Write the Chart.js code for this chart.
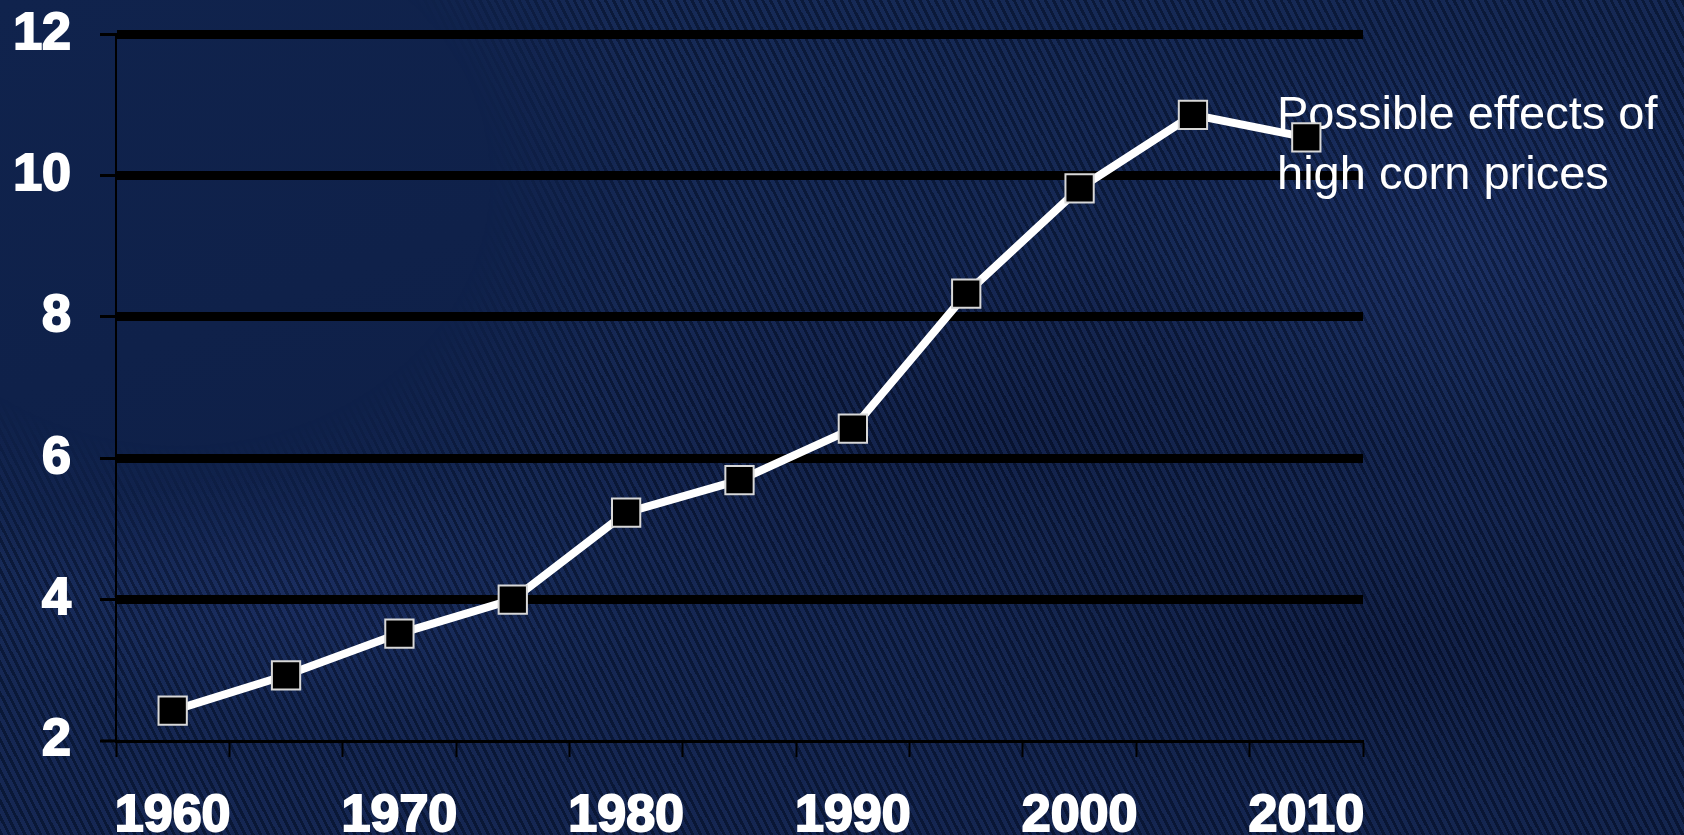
<!DOCTYPE html>
<html>
<head>
<meta charset="utf-8">
<title>Yield trend</title>
<script src="https://cdn.jsdelivr.net/npm/chart.js@4.4.1/dist/chart.umd.min.js"></script>
<style>
  html, body { margin: 0; padding: 0; }
  body {
    width: 1684px;
    height: 835px;
    overflow: hidden;
    position: relative;
    background: #0f2149;
  }
  /* dark navy backdrop with soft sweeping shapes */
  #backdrop {
    position: absolute;
    inset: 0;
    background:
      radial-gradient(ellipse 520px 180px at 300px 600px, rgba(30, 50, 110, 0.35), transparent 70%),
      radial-gradient(ellipse 700px 260px at 1000px 430px, rgba(5, 12, 40, 0.35), transparent 70%),
      radial-gradient(ellipse 500px 300px at 1450px 250px, rgba(35, 60, 125, 0.30), transparent 70%),
      radial-gradient(ellipse 600px 220px at 1350px 650px, rgba(5, 10, 35, 0.35), transparent 70%),
      linear-gradient(160deg, #10234d 0%, #0e1f47 55%, #0c1c42 100%);
  }
  /* fine diagonal weave, fading out toward the upper left */
  #backdrop::after {
    content: "";
    position: absolute;
    inset: 0;
    background: repeating-linear-gradient(63deg,
      rgba(0, 0, 0, 0.22) 0px, rgba(0, 0, 0, 0.22) 3px,
      rgba(70, 95, 160, 0.14) 3px, rgba(70, 95, 160, 0.14) 7px);
    -webkit-mask-image: radial-gradient(ellipse 560px 480px at 180px 180px, transparent 55%, #000 85%);
    mask-image: radial-gradient(ellipse 560px 480px at 180px 180px, transparent 55%, #000 85%);
  }
  #chart { position: absolute; left: 0; top: 0; }
</style>
</head>
<body>
<div id="backdrop"></div>
<canvas id="chart" width="1684" height="835"></canvas>
<script>
// Years on the x axis (every five years) and the plotted values
const years = ['1960', '1965', '1970', '1975', '1980', '1985', '1990', '1995', '2000', '2005', '2010'];
const values = [2.43, 2.93, 3.52, 4.0, 5.23, 5.69, 6.42, 8.33, 9.82, 10.86, 10.54];
const yMin = 2;
const yMax = 12;
const yStep = 2;
const noteLines = ['Possible effects of', 'high corn prices'];

const tickFont = { family: '"Liberation Sans", Arial, sans-serif', size: 52, weight: 'bold' };

// Text note next to the last points, drawn under the markers
const notePlugin = {
    id: 'note',
    beforeDatasetsDraw(chart) {
        const { ctx, chartArea } = chart;
        ctx.save();
        ctx.fillStyle = '#ffffff';
        ctx.font = '47px "Liberation Sans", Arial, sans-serif';
        ctx.textAlign = 'left';
        ctx.textBaseline = 'alphabetic';
        const x = chartArea.right - 86;
        noteLines.forEach((line, i) => {
            ctx.fillText(line, x, chartArea.top + 95 + i * 60);
        });
        ctx.restore();
    }
};

const ctx = document.getElementById('chart').getContext('2d');
new Chart(ctx, {
    type: 'line',
    data: {
        labels: years,
        datasets: [{
            data: values,
            borderColor: '#ffffff',
            borderWidth: 8,
            tension: 0,
            pointStyle: 'rect',
            pointRadius: 20,
            pointHoverRadius: 20,
            pointBackgroundColor: '#000000',
            pointBorderColor: '#d8d8d8',
            pointBorderWidth: 2
        }]
    },
    options: {
        responsive: false,
        animation: false,
        events: [],
        layout: { padding: { top: 31, right: 321, left: 0, bottom: 0 } },
        plugins: {
            legend: { display: false },
            tooltip: { enabled: false }
        },
        scales: {
            x: {
                offset: true,
                afterFit(scale) { scale.height = 94; },
                grid: {
                    offset: true,
                    drawOnChartArea: false,
                    drawTicks: true,
                    tickLength: 16,
                    tickWidth: 2,
                    tickColor: '#000000'
                },
                border: { display: true, color: '#000000', width: 3 },
                ticks: {
                    autoSkip: false,
                    maxRotation: 0,
                    padding: 28,
                    color: '#ffffff',
                    textStrokeColor: '#ffffff',
                    textStrokeWidth: 2,
                    font: tickFont,
                    callback(value, index) {
                        return index % 2 === 0 ? this.getLabelForValue(value) : '';
                    }
                }
            },
            y: {
                min: yMin,
                max: yMax,
                afterFit(scale) { scale.width = 116; },
                grid: {
                    color: '#000000',
                    lineWidth: c => (c.tick && c.tick.value === yMin ? 0 : 9),
                    drawTicks: true,
                    tickLength: 16,
                    tickWidth: 3,
                    tickColor: '#000000'
                },
                border: { display: true, color: '#000000', width: 2 },
                ticks: {
                    stepSize: yStep,
                    padding: 29,
                    color: '#ffffff',
                    textStrokeColor: '#ffffff',
                    textStrokeWidth: 2,
                    // small line height keeps the top label from pushing the plot down
                    font: Object.assign({}, tickFont, { lineHeight: 0.2 })
                }
            }
        }
    },
    plugins: [notePlugin]
});
</script>
</body>
</html>
